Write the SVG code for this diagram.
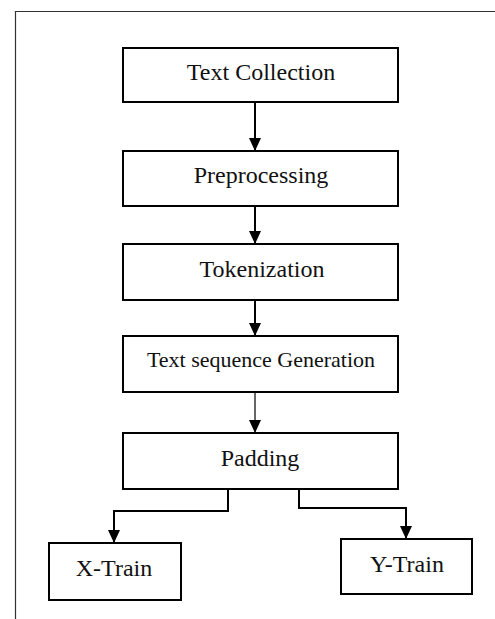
<svg xmlns="http://www.w3.org/2000/svg" width="495" height="619" viewBox="0 0 495 619">
  <style>
    .box { fill: #ffffff; stroke: #000000; stroke-width: 2; }
    .lbl { font-family: "Liberation Serif", "Times New Roman", serif; font-size: 24px; fill: #111111; text-anchor: middle; }
    .small { font-size: 22px; }
    .conn { fill: none; stroke: #000000; stroke-width: 2; }
    .thin { stroke-width: 1.2; }
    .frame { fill: none; stroke: #333333; stroke-width: 1.2; }
  </style>
  <defs>
    <marker id="arrow" markerUnits="userSpaceOnUse" viewBox="0 0 13 12" refX="13" refY="6" markerWidth="13" markerHeight="12" orient="auto">
      <path d="M0,0 L13,6 L0,12 z" fill="#000000"/>
    </marker>
  </defs>
  <rect width="495" height="619" fill="#ffffff"/>
  <g id="frame">
    <path class="frame" d="M15.5,625 V11.5 H500"/>
  </g>
  <g id="connectors">
    <path class="conn" d="M255,102 V151" marker-end="url(#arrow)"/>
    <path class="conn" d="M255,206 V244" marker-end="url(#arrow)"/>
    <path class="conn" d="M255,300 V336" marker-end="url(#arrow)"/>
    <path class="conn thin" d="M255,392 V433" marker-end="url(#arrow)"/>
    <path class="conn" d="M228,489 V511 H114 V543" marker-end="url(#arrow)"/>
    <path class="conn" d="M299,486 V508 H406 V539" marker-end="url(#arrow)"/>
  </g>
  <g id="text-collection">
    <rect class="box" x="123" y="48" width="275" height="54"/>
    <text class="lbl" x="261" y="80">Text Collection</text>
  </g>
  <g id="preprocessing">
    <rect class="box" x="123" y="151" width="275" height="55"/>
    <text class="lbl" x="261" y="183">Preprocessing</text>
  </g>
  <g id="tokenization">
    <rect class="box" x="123" y="244" width="275" height="56"/>
    <text class="lbl" x="262" y="277">Tokenization</text>
  </g>
  <g id="text-sequence-generation">
    <rect class="box" x="123" y="336" width="275" height="56"/>
    <text class="lbl small" x="261" y="367">Text sequence Generation</text>
  </g>
  <g id="padding">
    <rect class="box" x="123" y="433" width="275" height="56"/>
    <text class="lbl" x="260" y="466">Padding</text>
  </g>
  <g id="x-train">
    <rect class="box" x="49" y="543" width="132" height="57"/>
    <text class="lbl" x="114" y="576">X-Train</text>
  </g>
  <g id="y-train">
    <rect class="box" x="341" y="539" width="131" height="55"/>
    <text class="lbl" x="407" y="572">Y-Train</text>
  </g>
</svg>
